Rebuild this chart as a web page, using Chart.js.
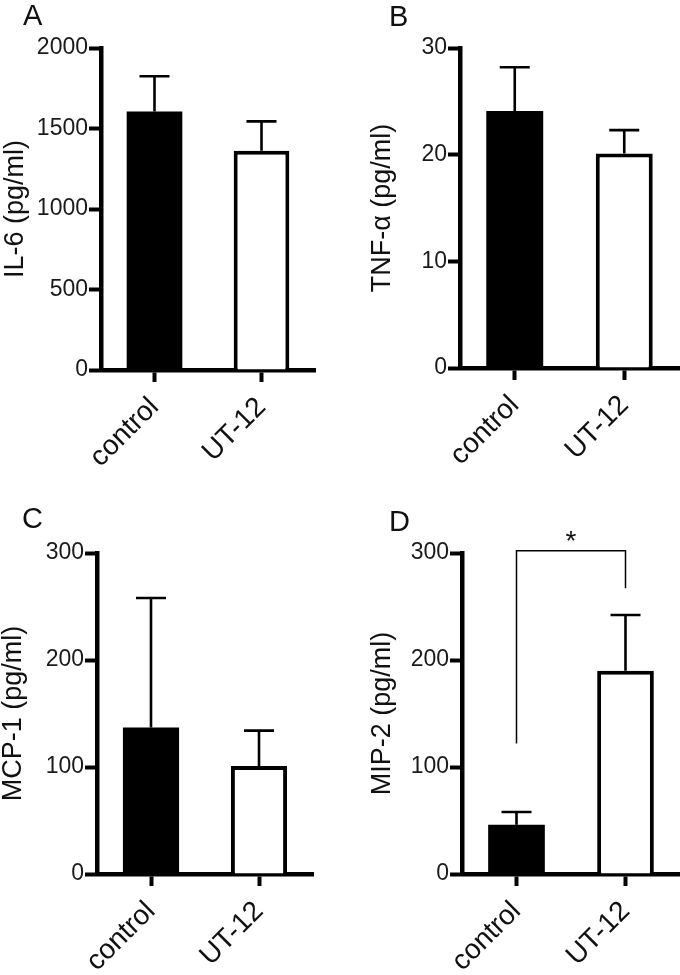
<!DOCTYPE html>
<html>
<head>
<meta charset="utf-8">
<script src="https://cdn.jsdelivr.net/npm/chart.js@4.4.0/dist/chart.umd.min.js"></script>
<style>
  html, body { margin: 0; padding: 0; background: #fff; }
  #wrap { position: relative; width: 680px; height: 975px; overflow: hidden; }
  canvas { position: absolute; }
  .letter { position: absolute; font-family: "Liberation Sans", Arial, sans-serif; font-size: 29px; line-height: 1; color: #111; }
</style>
</head>
<body>
<div id="wrap">
  <canvas id="chartA" width="340" height="480" style="left:0;top:0"></canvas>
  <canvas id="chartB" width="340" height="480" style="left:340px;top:0"></canvas>
  <canvas id="chartC" width="340" height="495" style="left:0;top:480px"></canvas>
  <canvas id="chartD" width="340" height="495" style="left:340px;top:480px"></canvas>
  <div class="letter" style="left:23px;top:1px">A</div>
  <div class="letter" style="left:389px;top:2px">B</div>
  <div class="letter" style="left:22px;top:504px">C</div>
  <div class="letter" style="left:389px;top:507px">D</div>
</div>
<script>
const categories = ['control', 'UT-12'];

// mean and SEM
const il6Mean = [1605, 1362];
const il6Sem = [220, 182];
const tnfMean = [24.1, 20.1];
const tnfSem = [4.1, 2.2];
const mcp1Mean = [137, 101];
const mcp1Sem = [121, 33];
const mip2Mean = [46, 190];
const mip2Sem = [12, 52];

const il6Ticks = [0, 500, 1000, 1500, 2000];
const tnfTicks = [0, 10, 20, 30];
const mcpTicks = [0, 100, 200, 300];
const mipTicks = [0, 100, 200, 300];

// significance bracket in panel D: top of bracket, leg ends (control, UT-12)
const mip2BracketTop = 302;
const mip2BracketLegs = [122, 267];
const mip2Star = '*';

const FONT = '"Liberation Sans", Arial, sans-serif';

// only the upper half of each error bar is drawn, like in the figure
const errorBars = {
  id: 'errorBars',
  afterDatasetsDraw(chart) {
    const { ctx, scales: { y } } = chart;
    const ds = chart.data.datasets[0];
    const meta = chart.getDatasetMeta(0);
    ctx.save();
    ctx.strokeStyle = '#000';
    ctx.lineWidth = 2.6;
    meta.data.forEach((bar, i) => {
      const top = y.getPixelForValue(ds.data[i] + ds.sem[i]);
      ctx.beginPath();
      ctx.moveTo(bar.x, bar.y);
      ctx.lineTo(bar.x, top);
      ctx.moveTo(bar.x - 15, top);
      ctx.lineTo(bar.x + 15, top);
      ctx.stroke();
    });
    ctx.restore();
  }
};

const bracket = {
  id: 'bracket',
  afterDraw(chart) {
    const { ctx, scales: { x, y } } = chart;
    const x1 = x.getPixelForValue(0);
    const x2 = x.getPixelForValue(1);
    const yt = y.getPixelForValue(mip2BracketTop);
    ctx.save();
    ctx.strokeStyle = '#000';
    ctx.lineWidth = 1.5;
    ctx.beginPath();
    ctx.moveTo(x1, y.getPixelForValue(mip2BracketLegs[0]));
    ctx.lineTo(x1, yt);
    ctx.lineTo(x2, yt);
    ctx.lineTo(x2, y.getPixelForValue(mip2BracketLegs[1]));
    ctx.stroke();
    ctx.fillStyle = '#111';
    ctx.font = '28px ' + FONT;
    ctx.textAlign = 'center';
    ctx.textBaseline = 'alphabetic';
    ctx.fillText(mip2Star, (x1 + x2) / 2, yt - 1);
    ctx.restore();
  }
};

function makeChart(id, means, sems, ticks, title, box, extra) {
  const ctx = document.getElementById(id);
  return new Chart(ctx, {
    type: 'bar',
    data: {
      labels: categories,
      datasets: [{
        data: means,
        sem: sems,
        backgroundColor: ['#000', '#fff'],
        borderColor: '#000',
        borderWidth: [0, 4],
        borderSkipped: 'start',
        barPercentage: 0.52,
        categoryPercentage: 1
      }]
    },
    options: {
      responsive: false,
      animation: false,
      devicePixelRatio: 1,
      events: [],
      layout: { padding: { top: box.top, right: box.right, left: 0, bottom: 0 } },
      plugins: { legend: { display: false }, tooltip: { enabled: false } },
      scales: {
        x: {
          z: 1,
          grid: { display: true, drawOnChartArea: false, offset: false, tickLength: 12, tickWidth: 4, tickColor: '#000' },
          border: { display: true, width: 4.5, color: '#000' },
          ticks: { color: '#111', font: { family: FONT, size: 28 }, minRotation: 45, maxRotation: 45, padding: 9 },
          afterFit(s) {
            s.height = box.xHeight;
            s.paddingLeft = s.paddingRight = s.paddingTop = s.paddingBottom = 0;
          }
        },
        y: {
          z: 1,
          min: ticks[0],
          max: ticks[ticks.length - 1],
          afterBuildTicks(s) { s.ticks = ticks.map(v => ({ value: v })); },
          grid: { display: true, drawOnChartArea: false, tickLength: 12, tickWidth: 4, tickColor: '#000' },
          border: { display: true, width: 4.5, color: '#000' },
          ticks: { color: '#1a1a1a', font: { family: FONT, size: 23 }, padding: 1, callback: v => String(v) },
          title: { display: true, text: title, color: '#111', font: { family: FONT, size: 27, lineHeight: 1 }, padding: { top: box.titlePad, bottom: 0 } },
          afterFit(s) {
            s.width = box.left;
            s.paddingLeft = s.paddingRight = s.paddingTop = s.paddingBottom = 0;
          }
        }
      }
    },
    plugins: [errorBars].concat(extra || [])
  });
}

makeChart('chartA', il6Mean, il6Sem, il6Ticks, 'IL-6 (pg/ml)',
  { left: 101, top: 48, right: 25, xHeight: 110, titlePad: 2 });
makeChart('chartB', tnfMean, tnfSem, tnfTicks, 'TNF-\u03b1 (pg/ml)',
  { left: 120, top: 48, right: 1, xHeight: 112, titlePad: 29 });
makeChart('chartC', mcp1Mean, mcp1Sem, mcpTicks, 'MCP-1 (pg/ml)',
  { left: 97, top: 73, right: 27, xHeight: 101, titlePad: 0 });
makeChart('chartD', mip2Mean, mip2Sem, mipTicks, 'MIP-2 (pg/ml)',
  { left: 122, top: 73, right: 0, xHeight: 101, titlePad: 29 }, [bracket]);
</script>
</body>
</html>
